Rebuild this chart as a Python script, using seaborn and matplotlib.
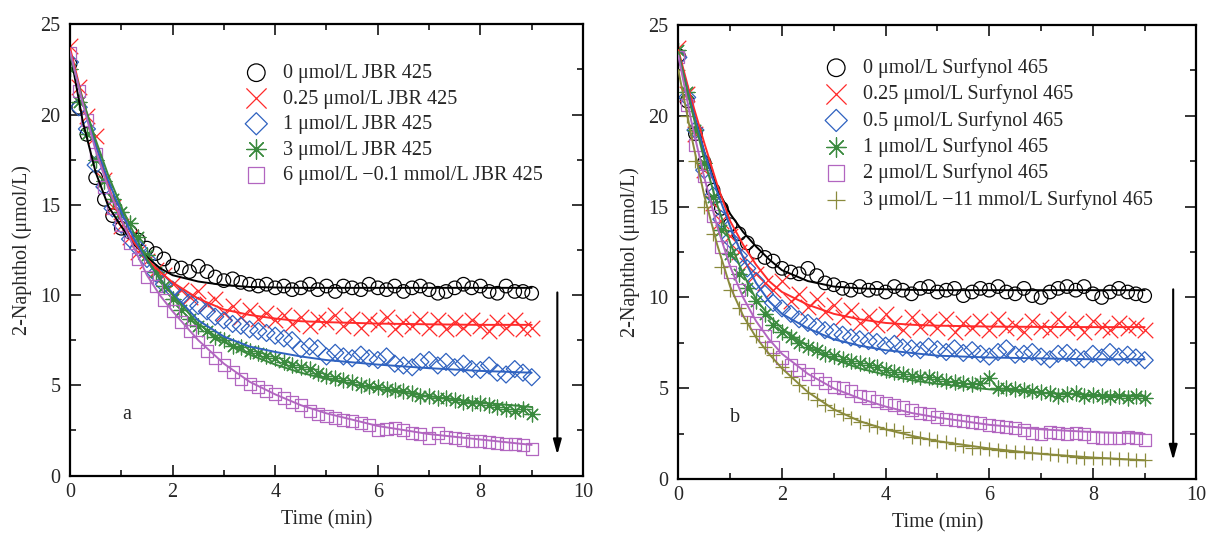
import matplotlib
matplotlib.use("Agg")
import matplotlib.pyplot as plt
import seaborn as sns

# measurement times (min), one point every 10 s
t_min = [0, 0.17, 0.33, 0.5, 0.67, 0.83,
         1.0, 1.17, 1.33, 1.5, 1.67, 1.83,
         2.0, 2.17, 2.33, 2.5, 2.67, 2.83,
         3.0, 3.17, 3.33, 3.5, 3.67, 3.83,
         4.0, 4.17, 4.33, 4.5, 4.67, 4.83,
         5.0, 5.17, 5.33, 5.5, 5.67, 5.83,
         6.0, 6.17, 6.33, 6.5, 6.67, 6.83,
         7.0, 7.17, 7.33, 7.5, 7.67, 7.83,
         8.0, 8.17, 8.33, 8.5, 8.67, 8.83,
         9.0]
# times of the fitted curves
t_fit = [0, 0.25, 0.5, 0.75, 1.0, 1.25, 1.5, 1.75, 2.0, 2.5, 3.0, 3.5, 4.0, 4.5, 5.0, 6.0, 7.0, 8.0, 9.0]

# ---- panel a: JBR 425 ----
labels_a = ["0 μmol/L JBR 425", "0.25 μmol/L JBR 425", "1 μmol/L JBR 425",
            "3 μmol/L JBR 425", "6 μmol/L \u22120.1 mmol/L JBR 425"]
a_0 = [22.8, 20.4, 18.9, 16.5, 15.3, 14.4,
       13.7, 13.5, 13.05, 12.6, 12.3, 12.0,
       11.6, 11.5, 11.3, 11.6, 11.3, 11.0,
       10.8, 10.9, 10.7, 10.6, 10.5, 10.6,
       10.4, 10.5, 10.3, 10.4, 10.6, 10.3,
       10.5, 10.2, 10.5, 10.4, 10.3, 10.6,
       10.4, 10.3, 10.5, 10.2, 10.4, 10.5,
       10.3, 10.1, 10.2, 10.4, 10.6, 10.4,
       10.5, 10.2, 10.1, 10.5, 10.2, 10.2,
       10.1]
a_025 = [23.8, 21.5, 19.9, 18.8, 16.4, 14.9,
         13.8, 13.2, 12.4, 11.9, 11.4, 11.1,
         10.6, 10.3, 9.9, 10.2, 9.5, 9.8,
         9.0, 9.4, 8.8, 9.2, 8.7, 9.0,
         8.6, 8.9, 8.4, 8.8, 8.3, 8.7,
         8.5, 8.9, 8.3, 8.7, 8.2, 8.6,
         8.4, 8.8, 8.1, 8.5, 8.3, 8.7,
         8.2, 8.6, 8.1, 8.5, 8.2, 8.6,
         8.3, 8.0, 8.5, 8.2, 8.6, 8.1,
         8.2]
a_1 = [22.9, 20.4, 19.2, 17.2, 16.0, 14.8,
       13.9, 13.1, 12.6, 12.0, 11.2, 10.6,
       10.3, 9.9, 9.6, 9.4, 9.1, 8.8,
       8.6, 8.4, 8.3, 8.1, 8.0, 7.9,
       7.75, 7.6, 7.5, 7.0, 7.15, 7.05,
       6.6, 6.8, 6.6, 6.5, 6.7, 6.5,
       6.4, 6.6, 6.2, 6.1, 6.0, 6.3,
       6.4, 6.1, 6.3, 6.0, 6.2, 5.9,
       5.85, 6.1, 5.7, 5.6, 5.9, 5.7,
       5.45]
a_3 = [22.5, 20.7, 18.9, 17.5, 16.3, 15.3,
       14.6, 14.0, 13.2, 12.2, 11.3, 10.5,
       9.8, 9.2, 8.7, 8.3, 8.0, 7.7,
       7.5, 7.2, 7.1, 6.9, 6.8, 6.6,
       6.5, 6.3, 6.1, 6.0, 5.9, 5.7,
       5.5, 5.4, 5.3, 5.2, 5.0, 4.95,
       4.9, 4.8, 4.75, 4.7, 4.6, 4.4,
       4.4, 4.3, 4.3, 4.2, 4.1, 4.0,
       4.0, 3.9, 3.8, 3.7, 3.6, 3.7,
       3.4]
a_6 = [23.4, 21.3, 19.7, 17.8, 16.0, 14.8,
       13.9, 12.9, 12.0, 11.0, 10.5, 9.7,
       9.1, 8.5, 8.0, 7.4, 6.9, 6.5,
       6.1, 5.75, 5.35, 5.1, 4.9, 4.7,
       4.5, 4.3, 4.1, 3.9, 3.6, 3.4,
       3.3, 3.2, 3.1, 3.0, 2.9, 2.8,
       2.55, 2.6, 2.65, 2.5, 2.35, 2.3,
       2.1, 2.35, 2.15, 2.1, 2.0, 1.9,
       1.9, 1.85, 1.8, 1.75, 1.75, 1.7,
       1.45]
fit_a_0 = [23.5, 19.6, 16.8, 14.9, 13.8, 12.8, 12.1, 11.5, 11.1, 10.75, 10.55, 10.45, 10.42, 10.4, 10.4, 10.4, 10.4, 10.4, 10.4]
fit_a_025 = [23.7, 20.8, 18.4, 16.0, 14.1, 12.9, 12.0, 11.3, 10.7, 9.8, 9.2, 8.9, 8.7, 8.55, 8.5, 8.42, 8.38, 8.35, 8.35]
fit_a_1 = [23.4, 20.7, 18.3, 16.3, 14.6, 13.1, 11.9, 10.9, 10.1, 8.6, 7.7, 7.15, 6.85, 6.6, 6.4, 6.15, 5.95, 5.8, 5.7]
fit_a_3 = [23.3, 20.8, 18.6, 16.6, 14.9, 13.4, 12.0, 10.9, 10.0, 8.4, 7.4, 6.7, 6.15, 5.7, 5.35, 4.8, 4.4, 4.05, 3.8]
fit_a_6 = [23.5, 20.6, 18.0, 15.9, 14.2, 12.6, 11.1, 10.0, 9.1, 7.5, 6.2, 5.2, 4.5, 3.9, 3.45, 2.75, 2.3, 2.0, 1.7]

# ---- panel b: Surfynol 465 ----
labels_b = ["0 μmol/L Surfynol 465", "0.25 μmol/L Surfynol 465", "0.5 μmol/L Surfynol 465",
            "1 μmol/L Surfynol 465", "2 μmol/L Surfynol 465", "3 μmol/L \u221211 mmol/L Surfynol 465"]
b_0 = [23.3, 20.8, 19.0, 17.4, 15.9, 14.9,
       14.0, 13.5, 13.0, 12.5, 12.2, 12.0,
       11.6, 11.4, 11.3, 11.6, 11.2, 10.8,
       10.7, 10.5, 10.4, 10.6, 10.4, 10.5,
       10.3, 10.6, 10.4, 10.2, 10.5, 10.6,
       10.3, 10.4, 10.5, 10.1, 10.3, 10.5,
       10.4, 10.6, 10.3, 10.2, 10.5, 10.1,
       10.0, 10.3, 10.5, 10.6, 10.4, 10.6,
       10.2, 10.0, 10.3, 10.5, 10.3, 10.2,
       10.1]
b_025 = [23.7, 21.2, 19.0, 17.0, 15.2, 14.2,
         13.4, 12.5, 11.8, 11.3, 10.8, 10.4,
         10.9, 9.8, 10.2, 9.5, 9.9, 9.2,
         9.6, 8.9, 9.3, 8.6, 9.0, 8.5,
         9.1, 8.6, 8.2, 8.9, 8.4, 8.7,
         8.3, 8.8, 8.1, 8.6, 8.3, 8.7,
         8.2, 8.8, 8.3, 8.5, 8.1, 8.7,
         8.4, 8.2, 8.8, 8.3, 8.6, 8.1,
         8.7, 8.4, 8.2, 8.6, 8.3, 8.5,
         8.2]
b_05 = [23.2, 21.0, 19.2, 17.0, 15.6, 14.3,
        13.2, 12.3, 11.6, 10.9, 10.2, 9.7,
        9.4, 9.1, 8.8, 8.6, 8.4, 8.2,
        8.1, 7.95, 7.8, 7.7, 7.6, 7.55,
        7.35, 7.45, 7.25, 7.2, 7.1, 7.3,
        7.15, 7.0, 7.2, 6.95, 7.1, 6.9,
        6.75, 7.0, 7.2, 6.85, 6.9, 7.0,
        6.75, 6.6, 6.9, 6.95, 6.7, 6.6,
        6.9, 6.7, 7.0, 6.75, 6.85, 6.7,
        6.55]
b_1 = [23.6, 21.3, 19.2, 17.4, 15.5, 13.7,
       12.4, 11.3, 10.5, 9.8, 9.1, 8.5,
       8.1, 7.8, 7.5, 7.3, 7.1, 6.9,
       6.8, 6.6, 6.5, 6.4, 6.3, 6.2,
       6.0, 5.9, 5.8, 5.7, 5.65, 5.6,
       5.5, 5.4, 5.35, 5.3, 5.25, 5.3,
       5.55, 5.0, 5.05, 4.95, 4.9, 4.85,
       4.8, 4.75, 4.6, 4.7, 4.75, 4.6,
       4.65, 4.6, 4.55, 4.6, 4.5, 4.6,
       4.5]
b_2 = [23.2, 20.6, 18.4, 16.7, 14.5, 12.8,
       11.4, 10.4, 9.3, 8.6, 7.9, 7.3,
       6.7, 6.3, 6.0, 5.8, 5.5, 5.3,
       5.1, 5.0, 4.85, 4.6, 4.5, 4.3,
       4.2, 4.1, 3.95, 3.8, 3.65, 3.6,
       3.45, 3.3, 3.25, 3.2, 3.15, 3.1,
       3.0, 2.95, 2.9, 2.85, 2.7, 2.55,
       2.5, 2.6, 2.55, 2.5, 2.55, 2.5,
       2.35, 2.3, 2.25, 2.3, 2.35, 2.25,
       2.15]
b_3 = [22.5, 20.0, 17.5, 15.0, 13.5, 11.7,
       10.4, 9.4, 8.6, 7.9, 7.3, 6.85,
       6.2, 5.65, 5.2, 4.75, 4.35, 4.1,
       3.8, 3.6, 3.35, 3.15, 3.0, 2.9,
       2.75, 2.7, 2.6, 2.35, 2.3, 2.2,
       2.1, 2.05, 1.95, 1.85, 1.75, 1.7,
       1.65, 1.6, 1.55, 1.5, 1.5, 1.45,
       1.43, 1.4, 1.35, 1.3, 1.25, 1.2,
       1.2, 1.15, 1.15, 1.1, 1.1, 1.05,
       1.05]
fit_b_0 = [23.5, 20.6, 18.0, 16.0, 14.6, 13.6, 12.8, 12.1, 11.5, 10.9, 10.6, 10.5, 10.45, 10.42, 10.4, 10.4, 10.4, 10.4, 10.4]
fit_b_025 = [23.6, 20.9, 18.5, 16.2, 14.2, 12.9, 11.8, 10.9, 10.3, 9.6, 9.1, 8.8, 8.6, 8.5, 8.45, 8.4, 8.38, 8.37, 8.37]
fit_b_05 = [23.4, 20.6, 18.0, 15.8, 13.9, 12.2, 10.8, 9.8, 9.1, 8.3, 7.7, 7.35, 7.1, 6.95, 6.8, 6.7, 6.65, 6.6, 6.6]
fit_b_1 = [23.5, 20.4, 17.6, 15.1, 13.0, 11.3, 9.9, 9.0, 8.3, 7.3, 6.6, 6.1, 5.75, 5.45, 5.25, 4.95, 4.75, 4.65, 4.6]
fit_b_2 = [23.3, 19.7, 16.6, 13.9, 11.7, 10.0, 8.7, 7.7, 6.9, 5.8, 5.0, 4.45, 4.0, 3.65, 3.4, 3.0, 2.75, 2.6, 2.5]
fit_b_3 = [22.5, 18.9, 15.6, 12.9, 10.6, 9.0, 7.8, 6.9, 6.1, 4.8, 3.85, 3.2, 2.75, 2.4, 2.1, 1.7, 1.4, 1.2, 1.05]

colors = ["#000000", "#ff2a2a", "#2f62c0", "#3a8a3e", "#b266c0", "#8a8a3c"]
markers = ["o", "x", "D", (8, 2, 0), "s", "+"]
sizes = [95, 125, 75, 115, 75, 105]

sns.set_style("ticks")
plt.rcParams["font.family"] = ["Liberation Serif", "DejaVu Serif"]

fig = plt.figure(figsize=(12.07, 5.35), dpi=100)
ax_a = fig.add_axes([0.058, 0.111, 0.425, 0.8437])
ax_b = fig.add_axes([0.562, 0.104, 0.4293, 0.850])


def draw(ax, series, fits, labels, mk_idx):
    for k, (ys, lab) in enumerate(zip(series, labels)):
        i = mk_idx[k]
        m = markers[i]
        if m in ("o", "s", "D"):
            sns.scatterplot(x=t_min, y=ys, ax=ax, marker=m, s=sizes[i],
                            facecolors="none", edgecolors=colors[i],
                            linewidths=0.9, label=lab, zorder=2)
        else:
            sns.scatterplot(x=t_min, y=ys, ax=ax, marker=m, s=sizes[i],
                            color=colors[i], linewidths=0.9, label=lab, zorder=2)
    for k, fy in enumerate(fits):
        sns.lineplot(x=t_fit, y=fy, ax=ax, color=colors[mk_idx[k]], lw=1.4,
                     estimator=None, sort=False, zorder=3)


draw(ax_a, [a_0, a_025, a_1, a_3, a_6],
     [fit_a_0, fit_a_025, fit_a_1, fit_a_3, fit_a_6], labels_a, [0, 1, 2, 3, 4])
draw(ax_b, [b_0, b_025, b_05, b_1, b_2, b_3],
     [fit_b_0, fit_b_025, fit_b_05, fit_b_1, fit_b_2, fit_b_3], labels_b, [0, 1, 2, 3, 4, 5])

FS = 14.5
for ax, tag, arrow_x, arrow_top, arrow_tip in [(ax_a, "a", 9.5, 10.3, 1.0), (ax_b, "b", 9.55, 10.6, 0.9)]:
    ax.set_xlim(0, 10)
    ax.set_ylim(0, 25)
    ax.set_xticks([0, 2, 4, 6, 8, 10])
    ax.set_yticks([0, 5, 10, 15, 20, 25])
    ax.set_xticks([1, 3, 5, 7, 9], minor=True)
    ax.set_yticks([2.5, 7.5, 12.5, 17.5, 22.5], minor=True)
    ax.tick_params(which="both", direction="in", top=True, right=True, labelsize=FS, width=1.3)
    ax.tick_params(which="major", length=8)
    ax.tick_params(which="minor", length=4)
    ax.tick_params(axis="y", which="major", pad=7)
    ax.tick_params(axis="x", which="major", pad=5)
    for sp in ax.spines.values():
        sp.set_linewidth(1.6)
        sp.set_color("black")
    ax.set_xlabel("Time (min)", fontsize=FS, labelpad=6)
    ax.set_ylabel("2-Naphthol (μmol/L)", fontsize=FS, labelpad=6)
    ax.text(1.1, 3.4, tag, fontsize=FS, ha="center", va="center")
    ax.annotate("", xy=(arrow_x, arrow_tip), xytext=(arrow_x, arrow_top),
                arrowprops=dict(arrowstyle="-|>,head_width=0.25,head_length=0.9",
                                color="black", lw=1.5))

ax_a.legend(loc="upper left", bbox_to_anchor=(0.318, 0.93), frameon=False, fontsize=FS,
            markerscale=1.3, handlelength=1.5, handletextpad=0.6, labelspacing=0.32,
            borderaxespad=0)
ax_b.legend(loc="upper left", bbox_to_anchor=(0.26, 0.944), frameon=False, fontsize=FS,
            markerscale=1.3, handlelength=1.5, handletextpad=0.6, labelspacing=0.32,
            borderaxespad=0)

fig.savefig("out.png", dpi=100)
